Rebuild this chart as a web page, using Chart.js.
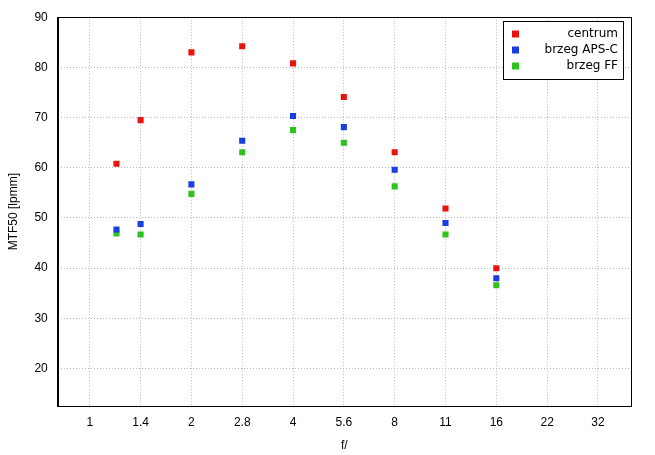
<!DOCTYPE html>
<html><head><meta charset="utf-8">
<script src="https://cdn.jsdelivr.net/npm/chart.js@4"></script>
<style>html,body{margin:0;background:#fff}#c{width:655px;height:455px}</style>
</head><body><div id="c"><canvas id="chartCanvas"></canvas></div>
<script>
"use strict";
const stopLabels = ['1', '1.4', '2', '2.8', '4', '5.6', '8', '11', '16', '22', '32'];
const apertures = [1.2, 1.4, 2, 2.8, 4, 5.6, 8, 11, 16];
const centrum = [60.8, 69.5, 83, 84.2, 80.8, 74.1, 63.1, 51.9, 40];
const brzegApsc = [47.7, 48.8, 56.7, 65.4, 70.3, 68.1, 59.6, 49, 38];
const brzegFF = [46.9, 46.7, 54.8, 63.1, 67.5, 65, 56.3, 46.7, 36.6];

// position on axis = stop number (sqrt(2) steps)
const stopPos = f => {
    const i = stopLabels.indexOf(String(f));
    return i >= 0 ? i : 2 * Math.log2(f);
};
const pts = vals => apertures.map((f, i) => ({ x: stopPos(f), y: vals[i] }));

const legendBox = {
    id: 'legendBox',
    afterDraw(chart) {
        const c = chart.ctx, a = chart.chartArea;
        c.save();
        c.strokeStyle = '#000'; c.lineWidth = 1;
        c.strokeRect(Math.round(a.left) + 0.5, Math.round(a.top) + 0.5, Math.round(a.right - a.left), Math.round(a.bottom - a.top));
        const w = 120, h = 58, x = Math.round(a.right) - w - 8, y = Math.round(a.top) + 4;
        c.fillStyle = '#fff'; c.fillRect(x, y, w, h);
        c.strokeRect(x + 0.5, y + 0.5, w, h);
        c.font = '12px "DejaVu Sans", sans-serif';
        c.textAlign = 'right'; c.textBaseline = 'middle';
        chart.data.datasets.forEach((d, i) => {
            const ly = y + 13 + i * 16;
            c.fillStyle = d.backgroundColor;
            c.fillRect(x + 9, ly - 3.5, 7, 7);
            c.fillStyle = '#000';
            c.fillText(d.label, x + w - 5, ly);
        });
        c.restore();
    }
};

const grid = { color: '#b8b8b8', drawTicks: false };
const border = { color: '#000', dash: [1, 2] };

new Chart(document.getElementById('chartCanvas'), {
    type: 'scatter',
    data: {
        datasets: [
            { label: 'centrum', data: pts(centrum), backgroundColor: '#e8120e' },
            { label: 'brzeg APS-C', data: pts(brzegApsc), backgroundColor: '#1a3ee0' },
            { label: 'brzeg FF', data: pts(brzegFF), backgroundColor: '#2ec21e' }
        ].map(d => Object.assign(d, { pointStyle: 'rect', pointRadius: 4.3, borderWidth: 0 }))
    },
    options: {
        responsive: true, maintainAspectRatio: false, animation: false,
        layout: { padding: { top: 12, right: 24, left: 2 } },
        plugins: { legend: { display: false }, tooltip: { enabled: false } },
        scales: {
            x: {
                type: 'linear', min: -0.63, max: 10.65,
                afterBuildTicks: s => { s.ticks = stopLabels.map((_, i) => ({ value: i })); },
                ticks: { callback: v => stopLabels[v], color: '#000', padding: 9, font: { size: 12 } },
                grid: grid, border: border,
                title: { display: true, text: 'f/', color: '#000', font: { size: 12 }, padding: { top: 0, bottom: 2 } }
            },
            y: {
                min: 12.5, max: 90,
                afterBuildTicks: s => { s.ticks = [20, 30, 40, 50, 60, 70, 80, 90].map(v => ({ value: v })); },
                ticks: { color: '#000', padding: 10, font: { size: 12 } },
                grid: grid, border: border,
                title: { display: true, text: 'MTF50 [lpmm]', color: '#000', font: { size: 12 } }
            }
        }
    },
    plugins: [legendBox]
});
</script></body></html>
